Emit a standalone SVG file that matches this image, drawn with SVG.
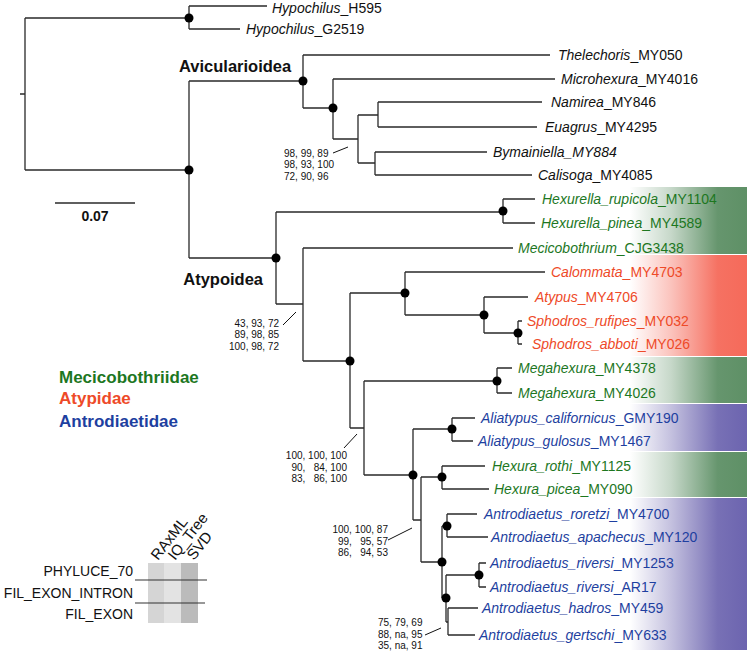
<svg xmlns="http://www.w3.org/2000/svg" width="747" height="652" viewBox="0 0 747 652">
<defs>
<linearGradient id="gG" x1="0" y1="0" x2="1" y2="0">
<stop offset="0" stop-color="#5e9066" stop-opacity="0"/>
<stop offset="0.35" stop-color="#5e9066" stop-opacity="0.35"/>
<stop offset="0.75" stop-color="#5e9066" stop-opacity="0.95"/>
<stop offset="1" stop-color="#5e9066" stop-opacity="1"/>
</linearGradient>
<linearGradient id="gR" x1="0" y1="0" x2="1" y2="0">
<stop offset="0" stop-color="#f56a5a" stop-opacity="0"/>
<stop offset="0.35" stop-color="#f56a5a" stop-opacity="0.4"/>
<stop offset="0.75" stop-color="#f56a5a" stop-opacity="0.95"/>
<stop offset="1" stop-color="#f56a5a" stop-opacity="1"/>
</linearGradient>
<linearGradient id="gP" x1="0" y1="0" x2="1" y2="0">
<stop offset="0" stop-color="#6c64af" stop-opacity="0"/>
<stop offset="0.35" stop-color="#6c64af" stop-opacity="0.4"/>
<stop offset="0.75" stop-color="#6c64af" stop-opacity="0.92"/>
<stop offset="1" stop-color="#6c64af" stop-opacity="1"/>
</linearGradient>
<style>
.br{fill:none;stroke:#2a2a2a;stroke-width:1.3}
.dot{fill:#000}
.lab{font-family:"Liberation Sans",Arial,sans-serif;font-size:14px;fill:#111}
.hd{font-family:"Liberation Sans",Arial,sans-serif;font-size:15px;fill:#111}
.g{fill:#1d771f}
.r{fill:#ee4a28}
.b{fill:#1e3fa0}
.it{font-style:italic}
.sup{font-family:"Liberation Sans",Arial,sans-serif;font-size:10px;fill:#111}
.clade{font-family:"Liberation Sans",Arial,sans-serif;font-size:16.5px;font-weight:bold;fill:#111}
.fam{font-family:"Liberation Sans",Arial,sans-serif;font-size:17px;font-weight:bold}
.tick{stroke:#111;stroke-width:1;fill:none}
</style>
</defs>

<g id="bands">
<rect x="630" y="187" width="117" height="67" fill="url(#gG)"/>
<rect x="630" y="255" width="117" height="101" fill="url(#gR)"/>
<rect x="630" y="357" width="117" height="46" fill="url(#gG)"/>
<rect x="630" y="404" width="117" height="47" fill="url(#gP)"/>
<rect x="630" y="452" width="117" height="45" fill="url(#gG)"/>
<rect x="630" y="498" width="117" height="152" fill="url(#gP)"/>
</g>

<g id="connectors">
<path class="br" d="M20,94H25M25,18V170M25,18H189M25,170H189"/>
<path class="br" d="M189,6V29M189,6H267M189,29H240"/>
<path class="br" d="M189,81V258M189,81H303M189,258H276"/>
<path class="br" d="M303,55V108M303,55H550M303,108H333"/>
<path class="br" d="M333,79V139M333,79H555M333,139H358"/>
<path class="br" d="M358,115V163M358,115H378M358,163H375"/>
<path class="br" d="M378,102V127M378,102H542M378,127H537"/>
<path class="br" d="M375,152V175M375,152H487M375,175H532"/>
<path class="br" d="M276,212V304M276,212H503M276,304H303"/>
<path class="br" d="M503,199V223M503,199H535M503,223H535"/>
<path class="br" d="M303,248V361M303,248H513M303,361H350"/>
<path class="br" d="M350,293V428M350,293H405M350,428H364"/>
<path class="br" d="M405,272V315M405,272H545M405,315H484"/>
<path class="br" d="M484,297V333M484,297H528M484,333H518"/>
<path class="br" d="M518,321V344M518,321H522M518,344H522"/>
<path class="br" d="M364,381V475M364,381H497M364,475H413"/>
<path class="br" d="M497,368V393M497,368H512M497,393H512"/>
<path class="br" d="M413,429V520M413,429H452M413,520H421"/>
<path class="br" d="M452,418V441M452,418H475M452,441H473"/>
<path class="br" d="M421,477V562M421,477H442M421,562H442"/>
<path class="br" d="M442,466V489M442,466H485M442,489H489"/>
<path class="br" d="M442,526V598M442,526H447M442,598H446"/>
<path class="br" d="M447,514V537M447,514H477M447,537H488"/>
<path class="br" d="M446,575V622M446,575H479M446,622H448"/>
<path class="br" d="M479,563V587M479,563H486M479,587H486"/>
<path class="br" d="M448,608V635M448,608H478M448,635H475"/>
<path class="tick" d="M333,153L348,147M283,325L296,312M344,448L357,434M388,540L412,528M425,635L441,628"/>
</g>

<g id="nodes-dots">
<circle class="dot" cx="189" cy="18" r="4.5"/>
<circle class="dot" cx="189" cy="170" r="4.5"/>
<circle class="dot" cx="303" cy="81" r="4.5"/>
<circle class="dot" cx="333" cy="108" r="4.5"/>
<circle class="dot" cx="276" cy="258" r="4.5"/>
<circle class="dot" cx="503" cy="211" r="4.5"/>
<circle class="dot" cx="350" cy="361" r="4.5"/>
<circle class="dot" cx="405" cy="293" r="4.5"/>
<circle class="dot" cx="484" cy="315" r="4.5"/>
<circle class="dot" cx="518" cy="333" r="4.5"/>
<circle class="dot" cx="497" cy="381" r="4.5"/>
<circle class="dot" cx="413" cy="475" r="4.5"/>
<circle class="dot" cx="452" cy="429" r="4.5"/>
<circle class="dot" cx="442" cy="477" r="4.5"/>
<circle class="dot" cx="442" cy="562" r="4.5"/>
<circle class="dot" cx="447" cy="526" r="4.5"/>
<circle class="dot" cx="446" cy="598" r="4.5"/>
<circle class="dot" cx="479" cy="575" r="4.5"/>
</g>

<g id="leaves">
<text class="lab" x="272" y="12.5"><tspan class="it">Hypochilus</tspan>_H595</text>
<text class="lab" x="246" y="34"><tspan class="it">Hypochilus</tspan>_G2519</text>
<text class="lab" x="558" y="60"><tspan class="it">Thelechoris</tspan>_MY050</text>
<text class="lab" x="561" y="84"><tspan class="it">Microhexura</tspan>_MY4016</text>
<text class="lab" x="551" y="107"><tspan class="it">Namirea</tspan>_MY846</text>
<text class="lab" x="545" y="132"><tspan class="it">Euagrus</tspan>_MY4295</text>
<text class="lab it" x="493" y="157">Bymainiella_MY884</text>
<text class="lab" x="538" y="180"><tspan class="it">Calisoga</tspan>_MY4085</text>
<text class="lab g" x="542" y="204"><tspan class="it">Hexurella_rupicola</tspan>_MY1104</text>
<text class="lab g" x="541" y="228"><tspan class="it">Hexurella_pinea</tspan>_MY4589</text>
<text class="lab g" x="518" y="253"><tspan class="it">Mecicobothrium</tspan>_CJG3438</text>
<text class="lab r" x="551" y="277"><tspan class="it">Calommata</tspan>_MY4703</text>
<text class="lab r" x="535" y="302"><tspan class="it">Atypus</tspan>_MY4706</text>
<text class="lab r" x="527" y="326"><tspan class="it">Sphodros_rufipes</tspan>_MY032</text>
<text class="lab r" x="532" y="349"><tspan class="it">Sphodros_abboti</tspan>_MY026</text>
<text class="lab g" x="518" y="373"><tspan class="it">Megahexura</tspan>_MY4378</text>
<text class="lab g" x="518" y="398"><tspan class="it">Megahexura</tspan>_MY4026</text>
<text class="lab b" x="481" y="423"><tspan class="it">Aliatypus_californicus</tspan>_GMY190</text>
<text class="lab b" x="478" y="446"><tspan class="it">Aliatypus_gulosus</tspan>_MY1467</text>
<text class="lab g" x="492" y="471"><tspan class="it">Hexura_rothi</tspan>_MY1125</text>
<text class="lab g" x="494" y="494"><tspan class="it">Hexura_picea</tspan>_MY090</text>
<text class="lab b" x="484" y="519"><tspan class="it">Antrodiaetus_roretzi</tspan>_MY4700</text>
<text class="lab b" x="491" y="542"><tspan class="it">Antrodiaetus_apachecus</tspan>_MY120</text>
<text class="lab b" x="490" y="568"><tspan class="it">Antrodiaetus_riversi</tspan>_MY1253</text>
<text class="lab b" x="490" y="592"><tspan class="it">Antrodiaetus_riversi</tspan>_AR17</text>
<text class="lab b" x="482" y="613"><tspan class="it">Antrodiaetus_hadros</tspan>_MY459</text>
<text class="lab b" x="479" y="640"><tspan class="it">Antrodiaetus_gertschi</tspan>_MY633</text>
</g>

<g id="clade-labels">
<text class="clade" x="179" y="72">Avicularioidea</text>
<text class="clade" x="263" y="285" text-anchor="end">Atypoidea</text>
</g>

<g id="support">
<text class="sup" x="284" y="157">98, 99, 89</text>
<text class="sup" x="284" y="168">98, 93, 100</text>
<text class="sup" x="284" y="180">72, 90, 96</text>
<text class="sup" x="279" y="327" text-anchor="end">43, 93, 72</text>
<text class="sup" x="279" y="338" text-anchor="end">89, 98, 85</text>
<text class="sup" x="279" y="350" text-anchor="end">100, 98, 72</text>
<text class="sup" x="347" y="459" text-anchor="end" xml:space="preserve">100, 100, 100</text>
<text class="sup" x="347" y="471" text-anchor="end" xml:space="preserve">90,   84, 100</text>
<text class="sup" x="347" y="482" text-anchor="end" xml:space="preserve">83,   86, 100</text>
<text class="sup" x="388" y="533" text-anchor="end" xml:space="preserve">100, 100, 87</text>
<text class="sup" x="388" y="545" text-anchor="end" xml:space="preserve">99,   95, 57</text>
<text class="sup" x="388" y="556" text-anchor="end" xml:space="preserve">86,   94, 53</text>
<text class="sup" x="378" y="626">75, 79, 69</text>
<text class="sup" x="378" y="638">88, na, 95</text>
<text class="sup" x="378" y="649">35, na, 91</text>
</g>

<g id="scale-bar">
<path class="br" d="M55,203H135" stroke="#111"/>
<text x="95" y="221" text-anchor="middle" font-family="Liberation Sans, Arial, sans-serif" font-size="14" font-weight="bold" fill="#111">0.07</text>
</g>

<g id="family-legend">
<text class="fam g" x="59" y="383">Mecicobothriidae</text>
<text class="fam r" x="59" y="404">Atypidae</text>
<text class="fam b" x="59" y="427">Antrodiaetidae</text>
</g>

<g id="dataset-legend">
<rect x="148" y="563" width="16" height="60" fill="#d5d5d5"/>
<rect x="164" y="563" width="17" height="60" fill="#e3e3e3"/>
<rect x="181" y="563" width="17" height="60" fill="#bbbbbb"/>
<path d="M135,580H207M135,603H205" stroke="#333" stroke-width="1.2"/>
<text class="lab" x="133" y="576" text-anchor="end">PHYLUCE_70</text>
<text class="lab" x="133" y="598" text-anchor="end">FIL_EXON_INTRON</text>
<text class="lab" x="133" y="619" text-anchor="end">FIL_EXON</text>
<text class="hd" transform="translate(158,561) rotate(-52)">RAxML</text>
<text class="hd" transform="translate(175,561) rotate(-52)">IQ_Tree</text>
<text class="hd" transform="translate(194,561) rotate(-52)">SVD</text>
</g>
</svg>
